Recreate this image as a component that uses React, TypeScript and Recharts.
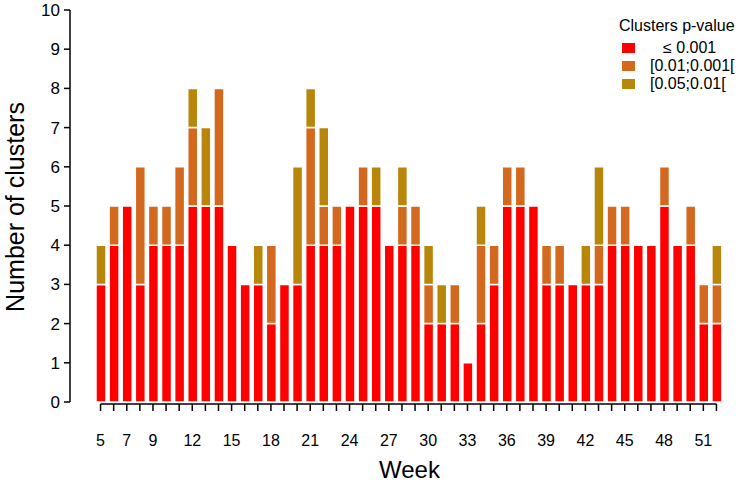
import { BarChart, Bar, XAxis, YAxis, Legend, ReferenceLine } from 'recharts';

const weeks = [5, 6, 7, 8, 9, 10, 11, 12, 13, 14, 15, 16, 17, 18, 19, 20, 21, 22, 23, 24, 25, 26, 27, 28, 29, 30, 31, 32, 33, 34, 35, 36, 37, 38, 39, 40, 41, 42, 43, 44, 45, 46, 47, 48, 49, 50, 51, 52];
const pLow = [3, 4, 5, 3, 4, 4, 4, 5, 5, 5, 4, 3, 3, 2, 3, 3, 4, 4, 4, 5, 5, 5, 4, 4, 4, 2, 2, 2, 1, 2, 3, 5, 5, 5, 3, 3, 3, 3, 3, 4, 4, 4, 4, 5, 4, 4, 2, 2];
const pMid = [0, 1, 0, 3, 1, 1, 2, 2, 0, 3, 0, 0, 0, 2, 0, 0, 3, 1, 1, 0, 1, 0, 0, 1, 1, 1, 0, 1, 0, 2, 1, 1, 1, 0, 1, 1, 0, 0, 1, 1, 1, 0, 0, 1, 0, 1, 1, 1];
const pHigh = [1, 0, 0, 0, 0, 0, 0, 1, 2, 0, 0, 0, 1, 0, 0, 3, 1, 2, 0, 0, 0, 1, 0, 1, 0, 1, 1, 0, 0, 1, 0, 0, 0, 0, 0, 0, 0, 1, 2, 0, 0, 0, 0, 0, 0, 0, 0, 1];
const labelledWeeks = [5, 7, 9, 12, 15, 18, 21, 24, 27, 30, 33, 36, 39, 42, 45, 48, 51];
const yTicks = [0, 1, 2, 3, 4, 5, 6, 7, 8, 9, 10];

const SERIES = [
  { key: 'low', label: '\u2264 0.001', color: '#FF0000' },
  { key: 'mid', label: '[0.01;0.001[', color: '#D2691E' },
  { key: 'high', label: '[0.05;0.01[', color: '#B8860B' },
];

const FONT = '"Liberation Sans", Arial, sans-serif';

const data = weeks.map((week, i) => ({ week, low: pLow[i], mid: pMid[i], high: pHigh[i] }));

const WeekTick = ({ x, y, payload }: any) => {
  const show = labelledWeeks.includes(payload.value);
  return (
    <g>
      <line x1={x} x2={x} y1={y + 2} y2={y + 9} stroke="#000" strokeWidth={1.5} />
      {show && (
        <text x={x} y={y + 44} textAnchor="middle" fontSize={16} fontFamily={FONT} fill="#000">
          {payload.value}
        </text>
      )}
    </g>
  );
};

const LegendBox = () => (
  <div style={{ position: 'relative', width: 147, height: 100, fontFamily: FONT, color: '#000' }}>
    <div style={{ position: 'absolute', left: 19, top: 0, fontSize: 16, whiteSpace: 'nowrap' }}>Clusters p-value</div>
    {SERIES.map((s, i) => (
      <div key={s.key} style={{ position: 'absolute', left: 22, top: 22 + i * 18, height: 18, display: 'flex', alignItems: 'center', whiteSpace: 'nowrap' }}>
        <span style={{ display: 'inline-block', width: 13, height: 10, background: s.color }} />
        <span style={{ fontSize: 16, marginLeft: i === 0 ? 28 : 15 }}>{s.label}</span>
      </div>
    ))}
  </div>
);

export default function App() {
  return (
    <div style={{ position: 'absolute', left: 0, top: 0, background: '#fff' }}>
      <BarChart width={747} height={486} data={data} margin={{ top: 10, right: 24, left: 0, bottom: 0 }}>
        <XAxis
          dataKey="week"
          type="category"
          interval={0}
          height={84}
          padding={{ left: 24, right: 0 }}
          axisLine={false}
          tickLine={false}
          tickSize={0}
          tickMargin={0}
          tick={<WeekTick />}
          label={{ value: 'Week', position: 'insideBottom', offset: 8, dx: 13, style: { fontSize: 24, fill: '#000', fontFamily: FONT } }}
        />
        <YAxis
          width={70}
          domain={[0, 10]}
          ticks={yTicks}
          interval={0}
          tick={{ fontSize: 17, fill: '#000', fontFamily: FONT }}
          tickLine={{ stroke: '#000', strokeWidth: 1.5 }}
          axisLine={{ stroke: '#000', strokeWidth: 1.5 }}
          tickSize={6}
          tickMargin={4}
          label={{ value: 'Number of clusters', angle: -90, position: 'insideLeft', offset: 15, dy: 1, style: { textAnchor: 'middle', fontSize: 25, fill: '#000', fontFamily: FONT } }}
        />
        <ReferenceLine
          segment={[{ x: weeks[0], y: -0.05 }, { x: weeks[weeks.length - 1], y: -0.05 }]}
          stroke="#000"
          strokeWidth={1.5}
          ifOverflow="visible"
        />
        <Legend
          layout="horizontal"
          verticalAlign="middle"
          align="center"
          content={<LegendBox />}
          wrapperStyle={{ left: 600, top: 17, width: 147 }}
        />
        {SERIES.map((s) => (
          <Bar
            key={s.key}
            dataKey={s.key}
            name={s.label}
            stackId="p"
            fill={s.color}
            stroke="#fff"
            strokeWidth={1.5}
            barSize={10}
            isAnimationActive={false}
          />
        ))}
      </BarChart>
    </div>
  );
}
